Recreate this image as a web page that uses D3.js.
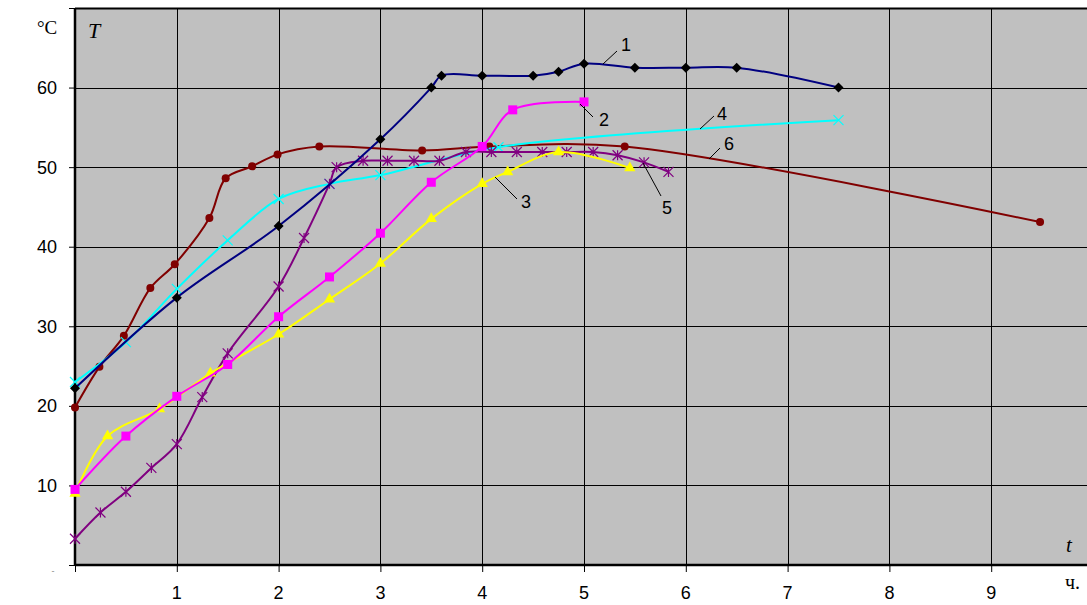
<!DOCTYPE html>
<html><head><meta charset="utf-8">
<script src="https://cdn.jsdelivr.net/npm/d3@7"></script>
<style>body{margin:0;background:#fff}svg{display:block}</style>
</head><body>
<svg id="c" width="1087" height="605"></svg>
<script>
// ---- data ----
const xTicks = [1,2,3,4,5,6,7,8,9];
const yTicks = [10,20,30,40,50,60];

const s1x = [0,1,2,3,3.5,3.6,4,4.5,4.75,5,5.5,6,6.5,7.5];
const s1y = [22.2,33.6,42.6,53.5,60,61.5,61.5,61.5,62,63,62.5,62.5,62.5,60];

const s2x = [0,0.5,1,1.5,2,2.5,3,3.5,4,4.3,5];
const s2y = [9.5,16.2,21.2,25.2,31.2,36.2,41.7,48.1,52.6,57.2,58.2];

const s3x = [0,0.32,0.83,1.33,2,2.5,3,3.5,4,4.25,4.75,5.45];
const s3y = [9.0,16.2,19.6,24.1,29.0,33.4,37.9,43.5,47.9,49.4,51.9,49.9];

const s4x = [0,0.5,1,1.5,2,2.5,3,4.16,7.5];
const s4y = [23.0,28.0,34.7,40.8,46.0,47.9,49.0,52.5,55.9];

const s5x = [0,0.25,0.5,0.75,1,1.25,1.5,2,2.25,2.5,2.57,2.83,3.07,3.33,3.58,3.84,4.09,4.34,4.59,4.83,5.09,5.33,5.59,5.83];
const s5y = [3.3,6.6,9.2,12.2,15.2,21.1,26.6,35.0,41.1,47.9,50.0,50.8,50.8,50.8,50.8,51.9,51.9,51.9,51.9,51.9,51.9,51.5,50.6,49.4];

const s6x = [0,0.24,0.48,0.74,0.98,1.32,1.48,1.74,1.99,2.4,3.41,4.07,5.4,9.48];
const s6y = [19.8,24.9,28.8,34.8,37.8,43.6,48.6,50.1,51.6,52.6,52.1,52.6,52.6,43.1];

const seriesLabels = ["1","2","3","4","5","6"];

// ---- chart ----
const svg = d3.select("#c");
const L=75, T=8, B=565, R=1093;
const x = d3.scaleLinear().domain([0,10]).range([L,R]);
const y = d3.scaleLinear().domain([0,70]).range([B,T]);
const sans = "Liberation Sans, Arial, sans-serif";
const serif = "Liberation Serif, Times New Roman, serif";

svg.append("rect").attr("x",L).attr("y",T).attr("width",1087-L).attr("height",B-T).attr("fill","#C0C0C0");

// grid
svg.append("g").selectAll("line").data(xTicks).join("line")
  .attr("x1",d=>Math.round(x(d))+0.5).attr("x2",d=>Math.round(x(d))+0.5)
  .attr("y1",T).attr("y2",B).attr("stroke","#000").attr("stroke-width",1);
svg.append("g").selectAll("line").data(yTicks).join("line")
  .attr("y1",d=>Math.round(y(d))+0.5).attr("y2",d=>Math.round(y(d))+0.5)
  .attr("x1",L).attr("x2",1087).attr("stroke","#000").attr("stroke-width",1);

// axes
const yAxis = d3.axisLeft(y).tickValues([0,...yTicks,70]).tickSize(6).tickFormat("");
const gy = svg.append("g").attr("transform",`translate(${L},0)`).call(yAxis);
gy.select(".domain").remove();
gy.selectAll("line").attr("stroke","#000");
const xAxis = d3.axisBottom(x).tickValues([0,...xTicks]).tickSize(7).tickFormat("");
const gx = svg.append("g").attr("transform",`translate(0,${B})`).call(xAxis);
gx.select(".domain").remove();
gx.selectAll("line").attr("stroke","#000");

svg.append("line").attr("x1",L).attr("x2",1087).attr("y1",T+0.5).attr("y2",T+0.5).attr("stroke","#000").attr("stroke-width",2);
svg.append("line").attr("x1",L).attr("x2",L).attr("y1",T).attr("y2",B+1).attr("stroke","#000").attr("stroke-width",2.5);
svg.append("line").attr("x1",L).attr("x2",1087).attr("y1",B).attr("y2",B).attr("stroke","#000").attr("stroke-width",2.5);

// tick labels
svg.append("g").selectAll("text").data(yTicks).join("text")
  .attr("x",57).attr("y",d=>y(d)).attr("dy","0.36em").attr("text-anchor","end")
  .attr("font-family",sans).attr("font-size",18).text(d=>d);
svg.append("g").selectAll("text").data(xTicks).join("text")
  .attr("x",d=>x(d)).attr("y",599).attr("text-anchor","middle")
  .attr("font-family",sans).attr("font-size",18).text(d=>d);
svg.append("text").attr("x",53).attr("y",574).attr("text-anchor","middle").attr("font-size",9).attr("fill","#888")
  .attr("font-family",sans).text("-");

svg.append("text").attr("x",37).attr("y",34).attr("font-family",serif).attr("font-size",19).text("°C");
svg.append("text").attr("x",88).attr("y",38).attr("font-family",serif).attr("font-style","italic").attr("font-size",22).text("T");
svg.append("text").attr("x",1066).attr("y",552).attr("font-family",serif).attr("font-style","italic").attr("font-size",21).text("t");
svg.append("text").attr("x",1065).attr("y",589).attr("font-family",serif).attr("font-size",20).text("ч.");

// series
const curve = d3.curveCatmullRom.alpha(0.5);
const line = d3.line().x(d=>x(d[0])).y(d=>y(d[1])).curve(curve);
const zip = (a,b)=>a.map((v,i)=>[v,b[i]]);

const sym = (type,size)=>d3.symbol().type(type).size(size)();
function drawSeries(xs,ys,color,mk){
  const pts = zip(xs,ys);
  svg.append("path").attr("d",line(pts)).attr("fill","none").attr("stroke",color).attr("stroke-width",2);
  const g = svg.append("g");
  pts.forEach(p=>{
    mk(g.append("g").attr("transform",`translate(${x(p[0])},${y(p[1])})`));
  });
}

// 6 dark red circles
drawSeries(s6x,s6y,"#800000",g=>g.append("circle").attr("r",4).attr("fill","#800000"));
// 4 cyan x
drawSeries(s4x,s4y,"#00FFFF",g=>{
  g.append("path").attr("d","M-5,-5L5,5M-5,5L5,-5").attr("stroke","#00FFFF").attr("stroke-width",1.2);
});
// 5 purple asterisk
drawSeries(s5x,s5y,"#800080",g=>{
  g.append("path").attr("d","M-5,-5L5,5M-5,5L5,-5M0,-5L0,5").attr("stroke","#800080").attr("stroke-width",1.2);
});
// 3 yellow triangles
drawSeries(s3x,s3y,"#FFFF00",g=>g.append("path").attr("d",sym(d3.symbolTriangle,55)).attr("fill","#FFFF00"));
// 2 magenta squares
drawSeries(s2x,s2y,"#FF00FF",g=>g.append("rect").attr("x",-4.5).attr("y",-4.5).attr("width",9).attr("height",9).attr("fill","#FF00FF"));
// 1 navy line, black diamonds
drawSeries(s1x,s1y,"#000080",g=>g.append("path").attr("d","M0,-5L5,0L0,5L-5,0Z").attr("fill","#000"));

// series labels with leaders
const labelPos = [
  {t:seriesLabels[0], lx1:603,ly1:64,lx2:617,ly2:51, tx:621,ty:51},
  {t:seriesLabels[1], lx1:580,ly1:104,lx2:593,ly2:117, tx:599,ty:126},
  {t:seriesLabels[2], lx1:495,ly1:177,lx2:517,ly2:199, tx:521,ty:208},
  {t:seriesLabels[3], lx1:700,ly1:129,lx2:714,ly2:116, tx:717,ty:120},
  {t:seriesLabels[4], lx1:643,ly1:163,lx2:661,ly2:196, tx:662,ty:214},
  {t:seriesLabels[5], lx1:709,ly1:159,lx2:720,ly2:148, tx:724,ty:150}
];
const lg = svg.append("g");
labelPos.forEach(l=>{
  lg.append("line").attr("x1",l.lx1).attr("y1",l.ly1).attr("x2",l.lx2).attr("y2",l.ly2).attr("stroke","#000").attr("stroke-width",1);
  lg.append("text").attr("x",l.tx).attr("y",l.ty).attr("font-family",sans).attr("font-size",18).text(l.t);
});
</script>
</body></html>
